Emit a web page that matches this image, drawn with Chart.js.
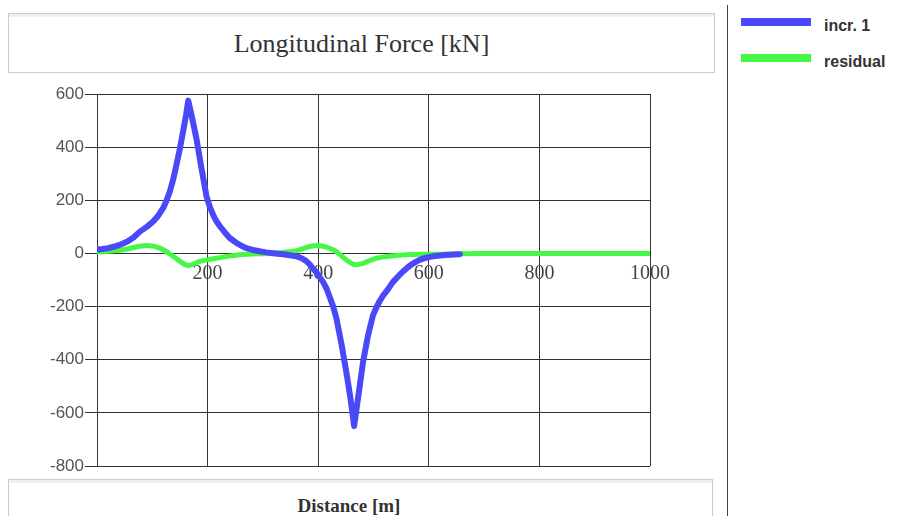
<!DOCTYPE html>
<html>
<head>
<meta charset="utf-8">
<script src="https://cdn.jsdelivr.net/npm/chart.js@4.4.1/dist/chart.umd.min.js"></script>
<style>
  body { margin: 0; background: #fff; width: 906px; height: 516px; overflow: hidden; position: relative; }
  #titleBox {
    position: absolute; left: 8px; top: 13px; width: 705px; height: 58px;
    border: 1px solid #cbcbcb; box-shadow: inset 0 3px 0 #f0f0f0;
    font: 26px "Liberation Serif", serif; color: #333;
    text-align: center; line-height: 60px;
  }
  #plotWrap { position: absolute; left: 0; top: 80px; width: 720px; height: 398px; }
  #axisWrap { position: absolute; left: 0; top: 471px; width: 720px; height: 45px; background: #fff; }
  #axisBox {
    position: absolute; left: 8px; top: 8px; width: 705px; height: 60px;
    border: 1px solid #cbcbcb; box-shadow: inset 0 3px 0 #f0f0f0;
    font: bold 19px "Liberation Serif", serif; color: #333;
    text-align: center; padding-right: 23px; box-sizing: border-box; line-height: 52px;
  }
  #sep { position: absolute; left: 727px; top: 5px; width: 1px; height: 511px; background: #444; }
  #legend { position: absolute; left: 741px; top: 17px; }
  .item { position: relative; height: 36px; }
  .bar { position: absolute; left: 0; top: 1px; width: 70px; height: 8px; }
  .lbl { position: absolute; left: 83px; top: 0px; font: bold 16px "Liberation Sans", sans-serif; color: #333; white-space: nowrap; }
</style>
</head>
<body>
<div id="titleBox">Longitudinal Force [kN]</div>
<div id="plotWrap"><canvas id="forceChart" width="720" height="398"></canvas></div>
<div id="axisWrap"><div id="axisBox">Distance [m]</div></div>
<div id="sep"></div>
<div id="legend"></div>
<script>
// distance along the track [m] and force [kN]
const incrDist = [0, 10, 20, 30, 42, 55, 66, 78, 90, 102, 111, 120, 126, 132, 138, 144, 150, 156, 161, 165,
  171, 180, 189, 198, 204, 210, 216, 222, 228, 234, 240, 248, 255, 262, 270, 282, 294, 306, 318, 340,
  361, 370, 378, 385, 390, 397, 403, 409, 415, 421, 427, 433, 442, 451, 458, 465,
  473, 481, 490, 499, 506, 511, 517, 523, 535, 547, 555, 562, 570, 578, 585, 592, 600, 608, 630, 656];
const incrForce = [15, 17, 20, 25, 33, 45, 60, 83, 100, 121, 143, 172, 200, 235, 280, 337, 395, 463, 520, 575,
  520, 430, 320, 215, 175, 145, 121, 103, 88, 72, 58, 46, 36, 28, 20, 13, 8, 4, 1, -4,
  -11, -18, -28, -42, -56, -72, -90, -108, -132, -165, -200, -245, -340, -448, -540, -650,
  -530, -410, -310, -233, -200, -180, -160, -144, -108, -81, -65, -52, -40, -30, -23, -18, -14, -11, -6, -3];

const resDist = [0, 48, 90, 114, 138, 165, 186, 216, 258, 318, 355, 397, 427, 469, 505, 559, 608, 700, 1000];
const resForce = [5, 14, 30, 20, -11, -45, -30, -18, -5, 1, 8, 30, 14, -43, -18, -5, -3, 0, 0];

const seriesNames = ["incr. 1", "residual"];
const xTicks = [200, 400, 600, 800, 1000];
const yTicks = [600, 400, 200, 0, -200, -400, -600, -800];

const blue = '#4949f7';
const green = '#47f747';

function toPoints(xs, ys) {
  return xs.map((x, i) => ({ x: x, y: ys[i] }));
}

const ctx = document.getElementById("forceChart");
const myChart = new Chart(ctx, {
  type: 'line',
  data: {
    datasets: [
      {
        label: seriesNames[0],
        data: toPoints(incrDist, incrForce),
        borderColor: blue,
        backgroundColor: blue,
        borderWidth: 6,
        borderJoinStyle: 'round',
        borderCapStyle: 'round',
        tension: 0,
        pointRadius: 0
      },
      {
        label: seriesNames[1],
        data: toPoints(resDist, resForce),
        borderColor: green,
        backgroundColor: green,
        borderWidth: 5,
        borderJoinStyle: 'round',
        borderCapStyle: 'round',
        cubicInterpolationMode: 'monotone',
        pointRadius: 0
      }
    ]
  },
  options: {
    responsive: false,
    animation: false,
    layout: { padding: { left: 0, top: 14, right: 70, bottom: 12 } },
    plugins: {
      legend: { display: false },
      tooltip: { enabled: false }
    },
    scales: {
      x: {
        type: 'linear',
        position: { y: 0 },
        min: 0,
        max: 1000,
        afterBuildTicks: (s) => { s.ticks = [0].concat(xTicks).map(v => ({ value: v })); },
        grid: { color: '#333', lineWidth: 1, drawTicks: false },
        border: { display: false },
        ticks: {
          padding: 8,
          color: '#444',
          font: { family: 'Liberation Serif', size: 20 },
          maxRotation: 0,
          callback: (v) => v === 0 ? '' : v
        }
      },
      y: {
        min: -800,
        max: 600,
        afterBuildTicks: (s) => { s.ticks = yTicks.map(v => ({ value: v })); },
        afterFit: (s) => { s.width = 97; },
        grid: { color: '#333', lineWidth: 1, tickLength: 12 },
        border: { color: '#333' },
        ticks: {
          padding: 1,
          color: '#555',
          font: { family: 'Liberation Sans', size: 17 }
        }
      }
    }
  }
});

// legend on the right, built from the datasets
const legend = document.getElementById("legend");
myChart.data.datasets.forEach((ds) => {
  const item = document.createElement("div");
  item.className = "item";
  item.innerHTML = '<div class="bar" style="background:' + ds.borderColor + '"></div><div class="lbl">' + ds.label + '</div>';
  legend.appendChild(item);
});
</script>
</body>
</html>
